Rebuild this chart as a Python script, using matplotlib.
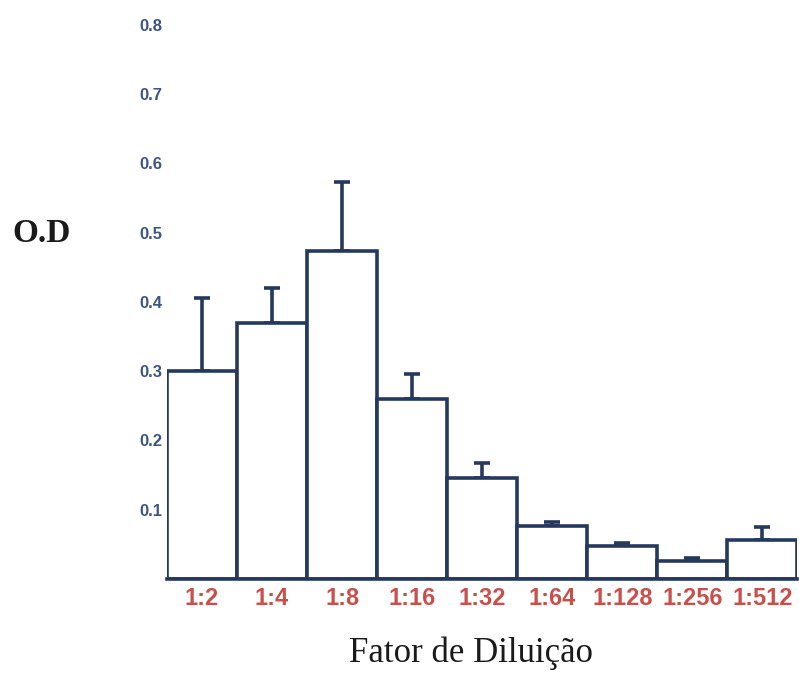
import matplotlib.pyplot as plt

# diluições e densidade óptica média (com desvio, só para cima)
diluicoes = ["1:2", "1:4", "1:8", "1:16", "1:32", "1:64", "1:128", "1:256", "1:512"]
od_media = [0.30, 0.37, 0.473, 0.259, 0.145, 0.076, 0.047, 0.026, 0.056]
od_desvio = [0.105, 0.05, 0.10, 0.037, 0.022, 0.006, 0.004, 0.004, 0.019]
yticks = [0.1, 0.2, 0.3, 0.4, 0.5, 0.6, 0.7, 0.8]

navy = "#25395e"
tick_blue = "#3b5584"
label_red = "#c9504a"

fig = plt.figure(figsize=(7.99, 6.73), dpi=100)
ax = fig.add_axes([0.209, 0.140, 0.789, 0.823])

x = list(range(len(diluicoes)))
ax.bar(x, od_media, width=1.0, color="white", edgecolor=navy, linewidth=2.6,
       zorder=2)
ax.errorbar(x, od_media, yerr=[[0] * len(od_desvio), od_desvio], fmt="none",
            ecolor=navy, elinewidth=2.6, capsize=6, capthick=2.6, zorder=1)

ax.set_xlim(-0.5, len(diluicoes) - 0.5)
ax.set_ylim(0, 0.8)

for s in ["top", "right", "left"]:
    ax.spines[s].set_visible(False)
ax.spines["bottom"].set_color(navy)
ax.spines["bottom"].set_linewidth(2.6)

ax.set_xticks(x)
ax.set_xticklabels(diluicoes, fontsize=17, fontweight="bold",
                   color=label_red, family="Liberation Sans")
ax.set_yticks(yticks)
ax.set_yticklabels([f"{v:.1f}" for v in yticks], fontsize=12,
                   fontweight="bold", color=tick_blue, family="Liberation Sans")
ax.tick_params(axis="both", length=0)
ax.tick_params(axis="x", pad=6)
ax.tick_params(axis="y", pad=3)

fig.text(0.052, 0.653, "O.D", fontsize=24, fontweight="bold",
         family="Liberation Serif", ha="center", va="center", color="#1a1a1a")
fig.text(0.59, 0.03, "Fator de Diluição", fontsize=25,
         family="Liberation Serif", ha="center", va="center", color="#1a1a1a")

fig.savefig("out.png", dpi=100)
